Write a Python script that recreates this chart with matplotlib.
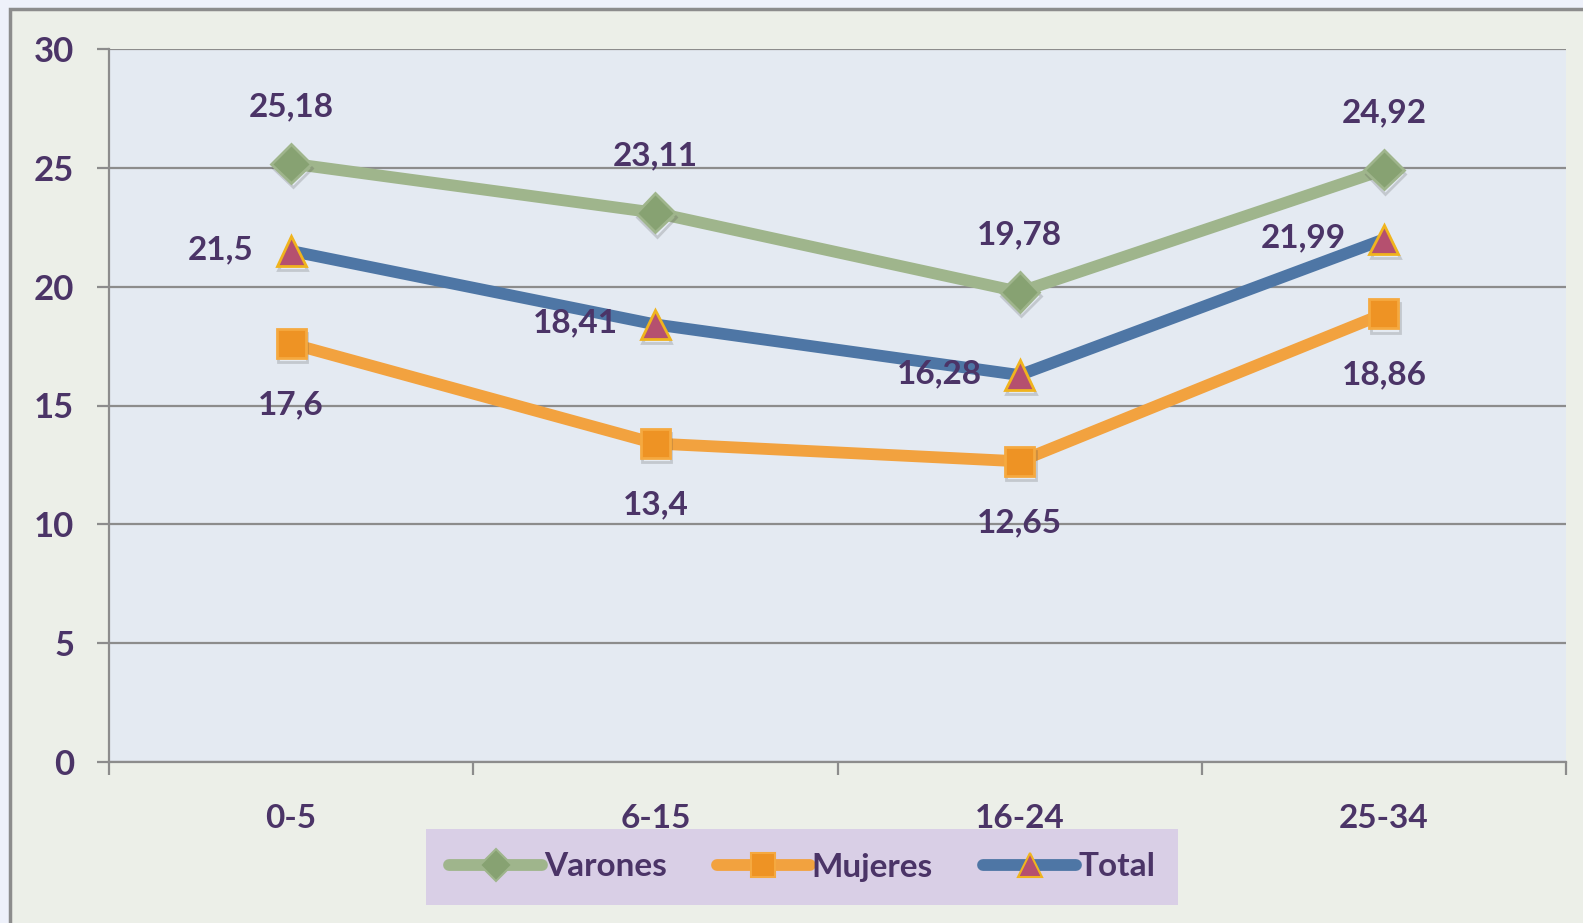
import matplotlib
matplotlib.use('Agg')
import matplotlib.pyplot as plt
import matplotlib.patheffects as pe
from matplotlib.patches import Rectangle
from matplotlib.lines import Line2D

grupos = ['0-5', '6-15', '16-24', '25-34']
varones = [25.18, 23.11, 19.78, 24.92]
mujeres = [17.6, 13.4, 12.65, 18.86]
total = [21.5, 18.41, 16.28, 21.99]
yticks = [0, 5, 10, 15, 20, 25, 30]

txt = '#4b3467'
plt.rcParams['font.family'] = ['Lato', 'DejaVu Sans']
plt.rcParams['font.weight'] = 'bold'

fig = plt.figure(figsize=(15.83, 9.23), dpi=100)
fig.patch.set_facecolor('#eef1fa')
# chart area with grey border
fig.patches.append(Rectangle((10/1583, -0.05), 1.1, 1 - 9/923 + 0.05, transform=fig.transFigure,
                             facecolor='#ecefe8', edgecolor='#8c8c8c', linewidth=2.5, zorder=-5))

ax = fig.add_axes([109/1583, 1 - 762/923, (1566-109)/1583, (762-49)/923])
ax.set_facecolor('#e4eaf2')
x = list(range(len(grupos)))

shadow = [pe.SimpleLineShadow(offset=(1, -3), alpha=0.2, shadow_color='#404040'), pe.Normal()]

series = [
    (varones, '#9fb58c', 'D', '#87a272', '#9fb58c', 'Varones'),
    (mujeres, '#f2a23f', 's', '#ee9324', '#f5a940', 'Mujeres'),
    (total, '#4e76a5', '^', '#b5506f', '#f0b41e', 'Total'),
]
handles = []
for vals, lc, mk, mfc, mec, name in series:
    ax.plot(x, vals, color=lc, linewidth=8.5, solid_capstyle='round', zorder=3)
    ms = 20 if mk == 'D' else 21
    ax.plot(x, vals, linestyle='none', marker=mk, markersize=ms, markerfacecolor=mfc,
            markeredgecolor=mec, markeredgewidth=2, zorder=4, path_effects=shadow)
    handles.append(Line2D([], [], color=lc, linewidth=8.5, solid_capstyle='round', marker=mk,
                          markersize=ms * 0.8, markerfacecolor=mfc, markeredgecolor=mec,
                          markeredgewidth=1.5, label=name))

fs = 24
for i, v in enumerate(varones):
    ax.annotate(f'{v:g}'.replace('.', ','), (i, v), xytext=(0, 41), textcoords='offset points',
                ha='center', va='center', fontsize=fs, color=txt, fontweight='bold', zorder=5)
for i, v in enumerate(mujeres):
    ax.annotate(f'{v:g}'.replace('.', ','), (i, v), xytext=(0, -44), textcoords='offset points',
                ha='center', va='center', fontsize=fs, color=txt, fontweight='bold', zorder=5)
for i, v in enumerate(total):
    ax.annotate(f'{v:g}'.replace('.', ','), (i, v), xytext=(-27, 1), textcoords='offset points',
                ha='right', va='center', fontsize=fs, color=txt, fontweight='bold', zorder=5)

ax.set_xlim(-0.5, len(grupos) - 0.5)
ax.set_ylim(0, 30)
ax.set_yticks(yticks)
ax.set_yticklabels([str(t) for t in yticks])
ax.grid(axis='y', color='#8c8c8c', linewidth=1.6, zorder=1)
ax.set_axisbelow(True)

ax.set_xticks([i - 0.5 for i in range(len(grupos) + 1)])
ax.set_xticklabels([])
ax.set_xticks(x, minor=True)
ax.set_xticklabels(grupos, minor=True)
ax.tick_params(axis='x', which='major', length=9, width=1.6, color='#8c8c8c', direction='out')
ax.tick_params(axis='x', which='minor', length=0, pad=30, labelsize=fs, labelcolor=txt)
ax.tick_params(axis='y', length=9, width=1.6, color='#8c8c8c', pad=16, labelsize=fs + 1, labelcolor=txt)

for s in ['top', 'right']:
    ax.spines[s].set_visible(False)
ax.spines['left'].set_color('#8c8c8c')
ax.spines['left'].set_linewidth(1.6)
ax.spines['bottom'].set_color('#8c8c8c')
ax.spines['bottom'].set_linewidth(1.6)

leg = fig.legend(handles=handles, loc='center', bbox_to_anchor=(802/1583, 1 - 867/923),
                 ncol=3, frameon=True, fontsize=fs, handlelength=2.8, handletextpad=0.05,
                 columnspacing=1.5, borderpad=0.7, borderaxespad=0, labelcolor=txt)
leg.get_frame().set_facecolor('#d9cfe6')
leg.get_frame().set_edgecolor('none')
leg.get_frame().set_alpha(1)
leg.get_frame().set_boxstyle('square', pad=0)

fig.savefig('out.png', dpi=100, facecolor=fig.get_facecolor())
